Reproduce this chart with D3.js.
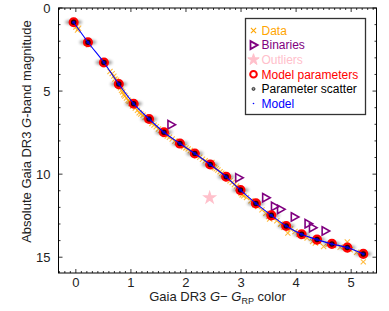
<!DOCTYPE html>
<html><head><meta charset="utf-8">
<script src="https://cdn.jsdelivr.net/npm/d3@7"></script>
<style>
body{margin:0;background:#fff;}
text{font-family:"Liberation Sans",Arial,sans-serif;}
</style></head>
<body>
<svg id="chart" width="389" height="311"></svg>
<script>
// ---- data ----
const modelX = [-0.04,0.22,0.51,0.78,1.05,1.33,1.60,1.89,2.16,2.44,2.73,2.99,3.27,3.55,3.82,4.10,4.38,4.65,4.93,5.22];
const modelY = [0.86,2.06,3.28,4.58,5.76,6.68,7.48,8.16,8.76,9.42,10.16,10.96,11.76,12.48,13.12,13.62,13.94,14.20,14.42,14.80];
const dataX = [0.00,0.03,0.05,0.19,0.23,0.52,0.62,0.66,0.69,0.71,0.74,0.76,0.79,0.81,0.83,0.85,0.87,0.89,0.92,0.95,0.97,1.00,1.03,1.08,1.12,1.15,1.18,1.22,1.26,1.30,1.38,1.42,1.46,1.50,1.54,1.57,1.62,1.66,1.70,1.75,1.80,1.84,1.92,1.96,2.00,2.04,2.08,2.12,2.20,2.25,2.30,2.35,2.40,2.46,2.47,2.50,2.52,2.55,2.58,2.62,2.65,2.68,2.70,2.76,2.80,2.84,2.88,2.92,2.95,2.97,3.00,3.02,3.05,3.10,3.18,3.25,3.30,3.38,3.45,3.50,3.52,3.58,3.65,3.72,3.78,3.85,3.90,3.98,4.05,4.12,4.20,4.30,4.35,4.42,4.50,4.58,4.68,4.80,4.93,4.98,5.10,5.22];
const dataY = [1.15,1.32,1.22,2.10,2.22,3.40,3.82,3.95,4.10,4.28,4.35,4.50,4.72,4.80,4.95,5.05,5.22,5.30,5.42,5.55,5.62,5.75,5.90,6.02,6.15,6.30,6.38,6.45,6.58,6.72,6.95,7.05,7.15,7.28,7.38,7.50,7.62,7.70,7.78,7.88,8.00,8.10,8.25,8.35,8.42,8.48,8.58,8.70,8.88,8.98,9.10,9.20,9.32,9.45,9.30,9.55,9.62,9.68,9.75,9.85,9.95,10.02,10.10,10.28,10.40,10.50,10.62,10.72,10.85,11.00,11.15,11.25,11.30,11.40,11.60,11.85,11.95,12.15,12.35,12.55,12.70,12.62,12.80,13.00,13.20,13.55,13.30,13.45,13.62,13.75,13.85,14.05,14.15,14.10,14.35,14.22,14.30,14.40,14.08,14.55,14.70,15.28];
const binX = [1.73,2.96,3.45,3.61,3.72,3.97,4.22,4.30,4.53];
const binY = [7.02,10.22,11.42,11.94,12.12,12.58,12.98,13.22,13.42];
const outX = [2.43];
const outY = [11.42];
const xTicks = [0,1,2,3,4,5];
const yTicks = [0,5,10,15];
const legendLabels = ["Data","Binaries","Outliers","Model parameters","Parameter scatter","Model"];

// ---- layout ----
const svg = d3.select("#chart");
const L = 58.5, R = 376.5, T = 8, B = 273;
const x = d3.scaleLinear().domain([-0.315, 5.46]).range([L, R]);
const y = d3.scaleLinear().domain([0, 15.95]).range([T, B]);

const defs = svg.append("defs");
defs.append("filter").attr("id","blur").attr("x","-50%").attr("y","-100%").attr("width","200%").attr("height","300%")
  .append("feGaussianBlur").attr("stdDeviation","1.5");
defs.append("clipPath").attr("id","clip").append("rect")
  .attr("x",L).attr("y",T).attr("width",R-L).attr("height",B-T);

const g = svg.append("g").attr("clip-path","url(#clip)");

// data crosses
const cross = (s) => `M${-s},${-s}L${s},${s}M${-s},${s}L${s},${-s}`;
g.selectAll(".d").data(dataX.map((v,i)=>[v,dataY[i]])).enter().append("path")
  .attr("transform",d=>`translate(${x(d[0])},${y(d[1])})`)
  .attr("d",cross(2.6)).attr("stroke","#ffa500").attr("stroke-opacity",0.75)
  .attr("stroke-width",1.1).attr("fill","none");

// parameter scatter (blurred horizontal clouds)
const mp = modelX.map((v,i)=>[v,modelY[i]]);
g.selectAll(".ps").data(mp).enter().append("ellipse")
  .attr("cx",d=>x(d[0])).attr("cy",d=>y(d[1])).attr("rx",8.5).attr("ry",2.4)
  .attr("fill","#000").attr("opacity",0.42).attr("filter","url(#blur)");

// outlier star
const star = d3.symbol().type(d3.symbolStar).size(40);
g.selectAll(".o").data(outX.map((v,i)=>[v,outY[i]])).enter().append("path")
  .attr("transform",d=>`translate(${x(d[0])},${y(d[1])})`)
  .attr("d",star()).attr("fill","#ffc0cb").attr("stroke","#ffc0cb").attr("stroke-width",1.2);

// binaries (right-pointing triangles)
const tri = (s) => `M${-s*0.75},${-s}L${s*1.05},0L${-s*0.75},${s}Z`;
g.selectAll(".b").data(binX.map((v,i)=>[v,binY[i]])).enter().append("path")
  .attr("transform",d=>`translate(${x(d[0])},${y(d[1])})`)
  .attr("d",tri(4.2)).attr("fill","none").attr("stroke","#800080").attr("stroke-width",1.6);

// model parameters red circles
g.selectAll(".mp").data(mp).enter().append("circle")
  .attr("cx",d=>x(d[0])).attr("cy",d=>y(d[1])).attr("r",3.9)
  .attr("fill","#300").attr("stroke","#ff0000").attr("stroke-width",2.3);

// model line
g.append("path").datum(mp)
  .attr("d",d3.line().x(d=>x(d[0])).y(d=>y(d[1])).curve(d3.curveMonotoneX))
  .attr("fill","none").attr("stroke","#0000ff").attr("stroke-width",1.1);
g.selectAll(".md").data(mp).enter().append("circle")
  .attr("cx",d=>x(d[0])).attr("cy",d=>y(d[1])).attr("r",1.5).attr("fill","#0000cc");

// ---- axes frame & ticks ----
const ax = svg.append("g").attr("stroke","#000");
const minorX = d3.range(-3, 55).map(i=>i/10).filter(v=>v>=-0.31 && v<=5.46);
const minorY = d3.range(0, 16);
minorX.forEach(v=>{
  const maj = Math.abs(v-Math.round(v))<1e-6;
  const len = maj?4:2;
  ax.append("line").attr("x1",x(v)).attr("x2",x(v)).attr("y1",B).attr("y2",B-len).attr("stroke-width",0.8);
  ax.append("line").attr("x1",x(v)).attr("x2",x(v)).attr("y1",T).attr("y2",T+len).attr("stroke-width",0.8);
});
minorY.forEach(v=>{
  const maj = v%5===0;
  const len = maj?4:2;
  ax.append("line").attr("y1",y(v)).attr("y2",y(v)).attr("x1",L).attr("x2",L+len).attr("stroke-width",0.8);
  ax.append("line").attr("y1",y(v)).attr("y2",y(v)).attr("x1",R).attr("x2",R-len).attr("stroke-width",0.8);
});
svg.append("rect").attr("x",L).attr("y",T).attr("width",R-L).attr("height",B-T)
  .attr("fill","none").attr("stroke","#000").attr("stroke-width",1);

// tick labels
svg.selectAll(".xt").data(xTicks).enter().append("text")
  .attr("x",d=>x(d)).attr("y",B+14).attr("text-anchor","middle")
  .attr("font-size",13).attr("fill","#222").text(d=>d);
svg.selectAll(".yt").data(yTicks).enter().append("text")
  .attr("x",L-8).attr("y",d=>y(d)+4.6).attr("text-anchor","end")
  .attr("font-size",13).attr("fill","#222").text(d=>d);

// axis labels
const xl = svg.append("text").attr("x",(L+R)/2).attr("y",301).attr("text-anchor","middle")
  .attr("font-size",13).attr("fill","#222");
xl.append("tspan").text("Gaia DR3 ");
xl.append("tspan").attr("font-style","italic").text("G");
xl.append("tspan").text("− ");
xl.append("tspan").attr("font-style","italic").text("G");
xl.append("tspan").attr("font-size",9).attr("dy",3).text("RP");
xl.append("tspan").attr("dy",-3).text(" color");

const yl = svg.append("text").attr("transform","translate(31,131.5) rotate(-90)")
  .attr("text-anchor","middle").attr("font-size",13).attr("fill","#222");
yl.append("tspan").text("Absolute Gaia DR3 ");
yl.append("tspan").attr("font-style","italic").text("G");
yl.append("tspan").text("-band magnitude");

// ---- legend ----
const lg = svg.append("g");
lg.append("rect").attr("x",245.5).attr("y",18.5).attr("width",120).attr("height",96)
  .attr("fill","#fff").attr("stroke","#333").attr("stroke-width",1.3);
const colors = ["#ffa500","#800080","#ffc0cb","#ff0000","#000","#0000ff"];
const mx = 253.5, tx = 261.5, y0 = 30.5, dy = 14.6;
legendLabels.forEach((lab,i)=>{
  const cy = y0 + i*dy;
  lg.append("text").attr("x",tx).attr("y",cy+4.3).attr("font-size",12)
    .attr("fill",colors[i]).text(lab);
  const m = lg.append("g").attr("transform",`translate(${mx},${cy})`);
  if(i===0) m.append("path").attr("d",cross(2.6)).attr("stroke","#ffa500").attr("stroke-width",1.1);
  if(i===1) m.append("path").attr("d",tri(4)).attr("fill","none").attr("stroke","#800080").attr("stroke-width",1.8);
  if(i===2) m.append("path").attr("d",star()).attr("fill","#ffc0cb").attr("stroke","#ffc0cb");
  if(i===3) m.append("circle").attr("r",3.3).attr("fill","none").attr("stroke","#ff0000").attr("stroke-width",2);
  if(i===4) m.append("circle").attr("r",1.5).attr("fill","#999").attr("stroke","#000").attr("stroke-width",0.7);
  if(i===5) m.append("circle").attr("r",0.8).attr("fill","#0000ff");
});
</script>
</body></html>
